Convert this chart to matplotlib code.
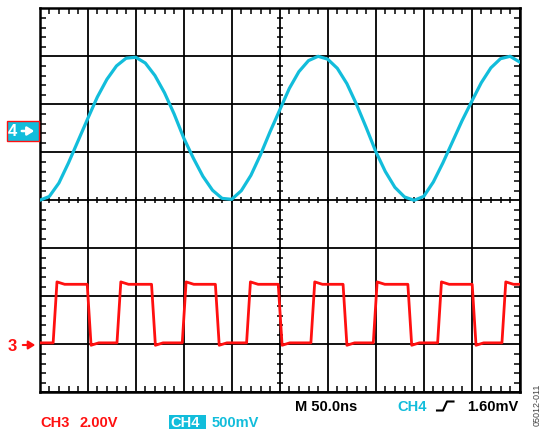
import numpy as np
import matplotlib
matplotlib.use('Agg')
import matplotlib.pyplot as plt
from matplotlib.patches import Rectangle, FancyArrowPatch
from matplotlib.lines import Line2D

W, H = 543, 435
CYAN = '#12BDDB'
RED = '#FF1010'

# screen is 10 x 8 divisions, centre line at 0
# CH4 (500mV/div) sampled every 0.2 div
ch4_x = np.linspace(0, 10, 51)
ch4_y = [0.00, 0.08, 0.36, 0.78, 1.24, 1.70, 2.15, 2.52, 2.80, 2.96,
         2.98, 2.86, 2.60, 2.24, 1.80, 1.30, 0.88, 0.50, 0.21, 0.04,
         0.02, 0.20, 0.52, 0.95, 1.43, 1.88, 2.33, 2.68, 2.91, 3.00,
         2.94, 2.75, 2.43, 2.00, 1.52, 1.02, 0.60, 0.27, 0.07, 0.00,
         0.08, 0.38, 0.78, 1.22, 1.66, 2.06, 2.45, 2.76, 2.95, 3.00, 2.88]

# CH3 square wave: edge times (div) and levels (div)
ch3_rise = [0.32, 1.65, 3.01, 4.35, 5.69, 6.99, 8.33, 9.67]
ch3_fall = [1.03, 2.37, 3.70, 5.01, 6.36, 7.71, 9.05]
ch3_high = -1.75
ch3_low = -2.97


def square_trace(rise, fall, hi, lo):
    edges = sorted([(t, 1) for t in rise] + [(t, 0) for t in fall])
    xs, ys = [0.0], [lo]
    for t, up in edges:
        a, b = (lo, hi) if up else (hi, lo)
        over = 0.05 if up else -0.05
        xs += [t - 0.04, t + 0.04, t + 0.2]
        ys += [a, b + over, b]
    xs.append(10.0)
    ys.append(ys[-1])
    return np.array(xs), np.array(ys)


def fx(px):
    return px / W


def fy(py):
    return 1 - py / H


fig = plt.figure(figsize=(W / 100, H / 100), dpi=100)
ax = fig.add_axes([fx(39.7), fy(393.3), fx(519.7) - fx(39.7), fy(9.3) - fy(393.3)])
ax.set_xlim(0, 10)
ax.set_ylim(-4, 4)

ax.set_xticks(range(11))
ax.set_yticks(range(-4, 5))
minor_x = np.arange(0, 10.01, 0.2)
minor_y = np.arange(-4, 4.01, 0.2)
ax.set_xticks(minor_x, minor=True)
ax.set_yticks(minor_y, minor=True)
ax.tick_params(which='major', length=0, labelbottom=False, labelleft=False)
ax.tick_params(which='minor', direction='in', length=4.5, width=1.1,
               top=True, right=True, color='k')
ax.grid(True, which='major', color='k', lw=1.3)
for s in ax.spines.values():
    s.set_linewidth(1.8)

# ticks on the centre cross
ax.plot(minor_x, np.zeros_like(minor_x), ls='', marker='|', ms=5, mew=1.1, color='k')
ax.plot(np.full_like(minor_y, 5), minor_y, ls='', marker='_', ms=5, mew=1.1, color='k')

sx, sy = square_trace(ch3_rise, ch3_fall, ch3_high, ch3_low)
ax.plot(sx, sy, color=RED, lw=2.0, zorder=5)
ax.plot(ch4_x, ch4_y, color=CYAN, lw=2.3, zorder=5)

font = dict(family='Liberation Sans', weight='bold', fontsize=10.5)

# channel markers on the left
fig.add_artist(Rectangle((fx(6.5), fy(142)), fx(39) - fx(6.5), fy(122) - fy(142),
                         transform=fig.transFigure, facecolor=CYAN,
                         edgecolor=RED, lw=1))
fig.text(fx(7.5), fy(132), '4', color='white', ha='left', va='center',
         family='Liberation Sans', weight='bold', fontsize=12)
fig.add_artist(FancyArrowPatch(
    (fx(19), fy(132)), (fx(37), fy(132)), transform=fig.transFigure,
    arrowstyle='-|>,head_length=4,head_width=2.5', color='white', lw=1.8))
fig.text(fx(8), fy(346.5), '3', color=RED, ha='left', va='center',
         family='Liberation Sans', weight='bold', fontsize=12)
fig.add_artist(FancyArrowPatch(
    (fx(20), fy(346)), (fx(38), fy(346)), transform=fig.transFigure,
    arrowstyle='-|>,head_length=4,head_width=2.5', color=RED, lw=1.5))

# bottom readouts
fig.text(fx(40), fy(423), 'CH3', color=RED, ha='left', va='center', **font)
fig.text(fx(80), fy(423), '2.00V', color=RED, ha='left', va='center', **font)
fig.add_artist(Rectangle((fx(168.5), fy(430)), fx(206) - fx(168.5), fy(416) - fy(430),
                         transform=fig.transFigure, facecolor=CYAN, lw=0))
fig.text(fx(170), fy(423), 'CH4', color='white', ha='left', va='center', **font)
fig.text(fx(212), fy(423), '500mV', color=CYAN, ha='left', va='center', **font)

fig.text(fx(295), fy(407), 'M 50.0ns', color='k', ha='left', va='center', **font)
fig.text(fx(397), fy(407), 'CH4', color=CYAN, ha='left', va='center', **font)
fig.add_artist(Line2D([fx(437), fx(443), fx(447), fx(453.5)],
                      [fy(411.5), fy(411.5), fy(402.5), fy(402.5)],
                      transform=fig.transFigure, color='k', lw=1.5))
fig.text(fx(467), fy(407), '1.60mV', color='k', ha='left', va='center', **font)

fig.text(fx(537.5), fy(405), '05012-011', color='#444444', rotation=90,
         ha='center', va='center', family='Liberation Sans', fontsize=6.5)

fig.savefig('out.png', dpi=100)
